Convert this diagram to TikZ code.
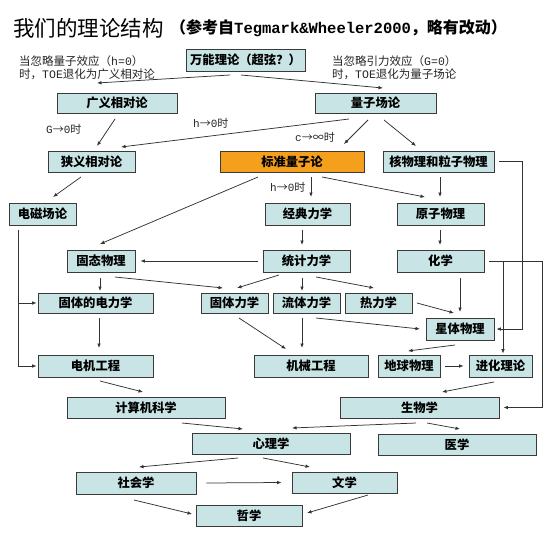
\documentclass[tikz,border=0pt]{standalone}
\usepackage{fontspec}
\setmainfont{Noto Sans CJK SC}
\newfontfamily\monof{Liberation Mono}
\usetikzlibrary{arrows.meta,calc}
\definecolor{boxfill}{HTML}{C8E4E4}
\definecolor{boxline}{HTML}{3A3A3A}
\definecolor{orangefill}{HTML}{F5A01C}
\definecolor{arrcol}{HTML}{333333}
\begin{document}
\begin{tikzpicture}[x=1pt,y=-1pt,
  bx/.style={draw=boxline,fill=boxfill,line width=0.9pt,inner sep=0pt,
    font=\fontsize{12.3}{12}\selectfont\bfseries,text=black},
  arr/.style={draw=arrcol,line width=0.75pt,-{Latex[length=4.5pt,width=3.6pt]}},
  lbl/.style={font=\fontsize{11.5}{13}\selectfont,text=black!85,inner sep=0pt,anchor=west,align=left},
  alb/.style={font=\fontsize{11}{11}\selectfont,text=black!85,inner sep=0pt,anchor=west}]
\useasboundingbox[fill=white] (0,0) rectangle (554,535);

% title
\node[anchor=west,inner sep=0pt,font=\fontsize{21.5}{21.5}\selectfont] (title) at (13,28) {我们的理论结构};
\node[anchor=west,inner sep=0pt,font=\fontsize{16}{16}\selectfont\bfseries] (subtitle) at (170,28)
  {（参考自{\monof\fontsize{15.5}{16}\selectfont\bfseries Tegmark\&Wheeler2000}，略有改动）};

% boxes
\node[bx,minimum width=119pt,minimum height=22pt] (toe) at (245.5,60) {万能理论（超弦？）};
\node[bx,minimum width=120pt,minimum height=20pt] (gr) at (117,103) {广义相对论};
\node[bx,minimum width=121pt,minimum height=20pt] (qft) at (375.5,103) {量子场论};
\node[bx,minimum width=87pt,minimum height=21pt] (sr) at (91.5,161.5) {狭义相对论};
\node[bx,fill=orangefill,minimum width=144pt,minimum height=21pt] (sqm) at (292,161.5) {标准量子论};
\node[bx,minimum width=111pt,minimum height=21pt] (nuc) at (438.5,161.5) {核物理和粒子物理};
\node[bx,minimum width=67pt,minimum height=22pt] (em) at (42.5,214) {电磁场论};
\node[bx,minimum width=85pt,minimum height=22pt] (cm) at (307.5,214) {经典力学};
\node[bx,minimum width=87pt,minimum height=22pt] (atom) at (440.5,214) {原子物理};
\node[bx,minimum width=68pt,minimum height=22pt] (ss) at (101,261) {固态物理};
\node[bx,minimum width=87pt,minimum height=22pt] (stat) at (306.5,261) {统计力学};
\node[bx,minimum width=87pt,minimum height=22pt] (chem) at (440.5,261) {化学};
\node[bx,minimum width=115pt,minimum height=20pt] (sed) at (95.5,303) {固体的电力学};
\node[bx,minimum width=67pt,minimum height=20pt] (sm) at (234.5,303) {固体力学};
\node[bx,minimum width=67pt,minimum height=20pt] (fm) at (306.5,303) {流体力学};
\node[bx,minimum width=67pt,minimum height=20pt] (th) at (378.5,303) {热力学};
\node[bx,minimum width=68pt,minimum height=22pt] (astro) at (460,329) {星体物理};
\node[bx,minimum width=115pt,minimum height=22pt] (ee) at (95.5,366) {电机工程};
\node[bx,minimum width=114pt,minimum height=22pt] (me) at (311,366) {机械工程};
\node[bx,minimum width=62pt,minimum height=22pt] (geo) at (409,366) {地球物理};
\node[bx,minimum width=63pt,minimum height=22pt] (evo) at (500.5,366) {进化理论};
\node[bx,minimum width=158pt,minimum height=21pt] (cs) at (146,407.5) {计算机科学};
\node[bx,minimum width=159pt,minimum height=21pt] (bio) at (419.5,407.5) {生物学};
\node[bx,minimum width=158pt,minimum height=21pt] (psy) at (271,443.5) {心理学};
\node[bx,minimum width=158pt,minimum height=21pt] (med) at (457,444.5) {医学};
\node[bx,minimum width=120pt,minimum height=22pt] (soc) at (136,483) {社会学};
\node[bx,minimum width=105pt,minimum height=21pt] (lit) at (344.5,482.5) {文学};
\node[bx,minimum width=106pt,minimum height=21pt] (phil) at (249,515.5) {哲学};

% labels
\node[lbl] (lblL) at (19,67.5) {当忽略量子效应（{\monof h=0}）\\时，{\monof TOE}退化为广义相对论};
\node[lbl] (lblR) at (332,67.5) {当忽略引力效应（{\monof G=0}）\\时，{\monof TOE}退化为量子场论};
\node[alb] (lG) at (46,129) {{\monof G}→{\monof 0}时};
\node[alb] (lh1) at (193,123) {{\monof h}→{\monof 0}时};
\node[alb] (lc) at (295,137) {{\monof c}→∞时};
\node[alb] (lh2) at (270,187) {{\monof h}→{\monof 0}时};

% arrows
\draw[arr] ($(toe)+(-15.5,15)$) -- ($(gr)+(-20,-20)$);
\draw[arr] ($(toe)+(-4.5,15)$) -- ($(qft)+(7.5,-15)$);
\draw[arr] ($(gr)+(-2,16)$) -- ($(sr)+(5.5,-15.5)$);
\draw[arr] ($(qft)+(-26.5,16)$) -- ($(sr)+(29.5,-14.5)$);
\draw[arr] ($(qft)+(-7.5,17)$) -- ($(sqm)+(52,-17.5)$);
\draw[arr] ($(qft)+(8.5,17)$) -- ($(nuc)+(-22.5,-15.5)$);
\draw[arr] ($(sr)+(-10.5,15.5)$) -- ($(em)+(10.5,-17)$);
\draw[arr] ($(sqm)+(-34,15.5)$) -- ($(ss)+(-1,-17)$);
\draw[arr] ($(sqm)+(19,15.5)$) -- ($(cm)+(3.5,-17)$);
\draw[arr] ($(sqm)+(30,15.5)$) -- ($(atom)+(-15.5,-17)$);
\draw[arr] ($(nuc)+(1.5,15.5)$) -- ($(atom)+(-0.5,-17)$);
\draw[arr] ($(nuc.east)+(5,0)$) -| ($(astro.east)+(28,0)$) -- ($(astro.east)+(2,0)$);
\draw[arr] ($(cm)+(-5.5,16)$) -- ($(stat)+(-4.5,-16)$);
\draw[arr] ($(atom)+(-0.5,16)$) -- ($(chem)+(-0.5,-16)$);
\draw[arr] ($(chem.east)+(5,0)$) -| ($(evo.north)+(2.5,-1)$);
\draw[arr] ($(chem.east)+(5,0)$) -| ($(bio.east)+(43,0)$) -- ($(bio.east)+(4,0)$);
\draw[arr] ($(stat.west)+(-5,0)$) -- ($(ss.east)+(5,0)$);
\draw[arr] ($(ss)+(-1,17)$) -- ($(sed)+(4.5,-12)$);
\draw[arr] ($(ss)+(14,16)$) -- ($(sm)+(-11.5,-15)$);
\draw[arr] ($(stat)+(-27.5,14)$) -- ($(sm)+(2.5,-15)$);
\draw[arr] ($(stat)+(-4.5,17)$) -- ($(fm)+(-4.5,-12)$);
\draw[arr] ($(stat)+(9.5,16)$) -- ($(th)+(-4.5,-15)$);
\draw[arr] ($(chem)+(19.5,17)$) -- ($(astro)+(0,-17)$);
\draw[arr] ($(th)+(38.5,0)$) -- ($(astro)+(-6,-16)$);
\draw[arr] ($(fm)+(9.5,15)$) -- ($(astro)+(-40,0)$);
\draw[arr] ($(sm)+(4.5,15)$) -- ($(me)+(-25,-17)$);
\draw[arr] ($(fm)+(-4.5,15)$) -- ($(me)+(-9,-18)$);
\draw[arr] ($(sed)+(3.5,15)$) -- ($(ee)+(3.5,-18)$);
\coordinate (emline) at ($(em.south)+(-24.5,5)$);
\draw[arr] (emline) |- ($(ee.west)+(-1,0)$);
\draw[arr] (emline |- sed.west) -- ($(sed.west)+(-1,0)$);
\draw[arr] ($(ee)+(4.5,15)$) -- ($(cs)+(-3,-15.5)$);
\draw[arr] ($(astro)+(-5,16)$) -- ($(geo)+(-1,-15)$);
\draw[arr] ($(geo.east)+(5,0)$) -- ($(evo.west)+(-5,0)$);
\draw[arr] ($(evo)+(-6.5,16)$) -- ($(bio)+(22.5,-15.5)$);
\draw[arr] ($(cs)+(36,15.5)$) -- ($(psy)+(-28,-14.5)$);
\draw[arr] ($(bio)+(-3.5,15.5)$) -- ($(psy)+(21,-15.5)$);
\draw[arr] ($(bio)+(7.5,15.5)$) -- ($(med)+(3,-15.5)$);
\draw[arr] ($(psy)+(-33,14.5)$) -- ($(soc)+(3,-16)$);
\draw[arr] ($(psy)+(-8,14.5)$) -- ($(lit)+(-34.5,-15.5)$);
\draw[arr] ($(soc.east)+(10,0)$) -- ($(lit.west)+(-10,0)$);
\draw[arr] ($(soc)+(-2,17)$) -- ($(phil)+(-57,-1.5)$);
\draw[arr] ($(lit)+(23.5,12.5)$) -- ($(phil)+(58,-2.5)$);
\end{tikzpicture}
\end{document}
